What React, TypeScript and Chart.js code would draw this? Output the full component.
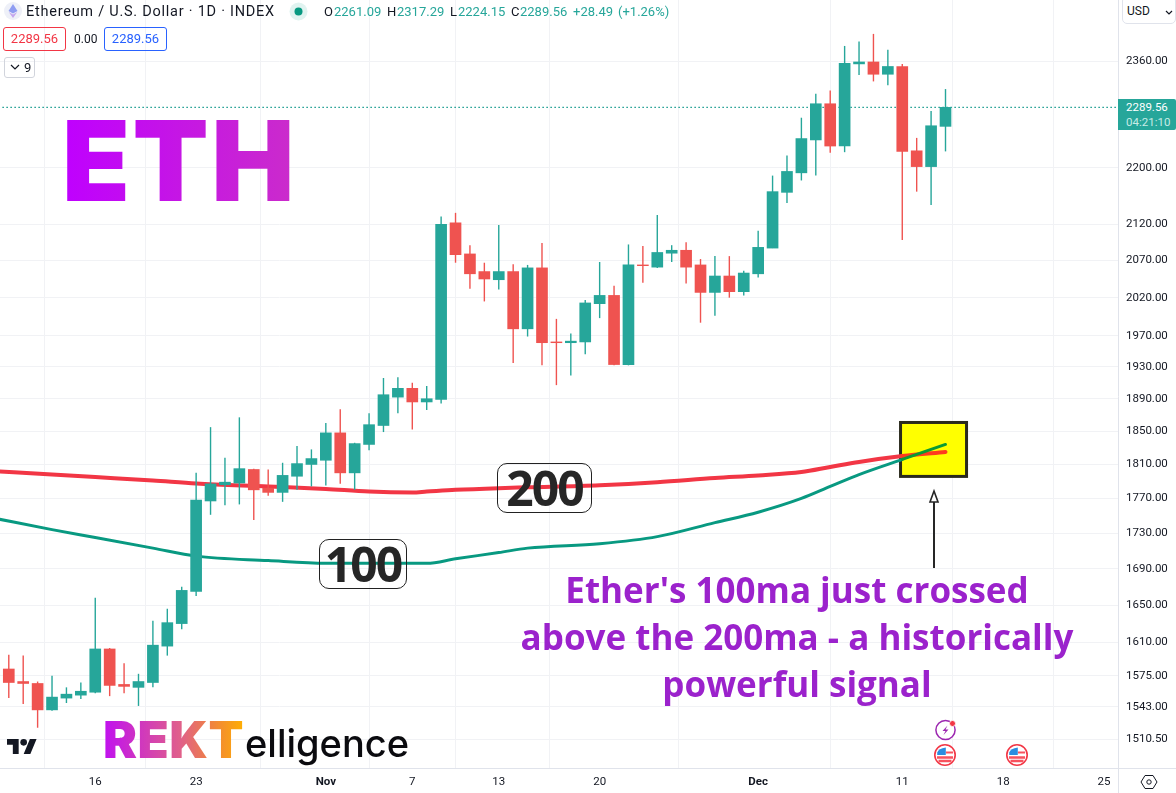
import React, { useEffect, useRef } from "react";
import { Chart, registerables } from "chart.js";

Chart.register(...registerables);

// one candle per day, first candle is Oct 10
const opens = [1582, 1569, 1567, 1540, 1552, 1555, 1558, 1603, 1566, 1563, 1568, 1606, 1630, 1665, 1767, 1786, 1788, 1804, 1782, 1777, 1796, 1810, 1815, 1848, 1800, 1834, 1857, 1892, 1903, 1886, 1889, 2122, 2079, 2055, 2044, 2055, 1979, 2060, 1962, 1961, 1962, 2012, 2023, 1933, 2064, 2061, 2080, 2084, 2064, 2027, 2049, 2028, 2052, 2087, 2165, 2193, 2241, 2295, 2232, 2356, 2359, 2340, 2352, 2225, 2202, 2261.09];
const highs = [1597, 1596, 1569, 1575, 1563, 1568, 1658, 1604, 1588, 1577, 1633, 1646, 1670, 1800, 1855, 1818, 1867, 1805, 1804, 1812, 1832, 1828, 1860, 1877, 1836, 1872, 1916, 1917, 1910, 1906, 2131, 2136, 2091, 2067, 2119, 2065, 2064, 2094, 1992, 1973, 2017, 2068, 2036, 2092, 2090, 2133, 2091, 2095, 2072, 2076, 2076, 2056, 2111, 2189, 2218, 2274, 2310, 2315, 2384, 2391, 2403, 2378, 2356, 2244, 2284, 2317.29];
const lows = [1552, 1546, 1522, 1539, 1547, 1551, 1557, 1554, 1557, 1544, 1563, 1596, 1624, 1660, 1751, 1762, 1763, 1745, 1773, 1766, 1780, 1784, 1785, 1787, 1780, 1827, 1849, 1872, 1852, 1876, 1884, 2067, 2032, 2015, 2031, 1935, 1969, 1932, 1907, 1919, 1946, 1993, 1932, 1932, 2040, 2060, 2068, 2039, 1987, 1996, 2020, 2023, 2047, 2087, 2150, 2182, 2189, 2222, 2223, 2339, 2329, 2323, 2098, 2166, 2147, 2224.15];
const closes = [1568, 1567, 1540, 1553, 1556, 1559, 1603, 1565, 1564, 1569, 1607, 1631, 1666, 1768, 1787, 1789, 1805, 1780, 1777, 1797, 1811, 1817, 1848, 1800, 1835, 1858, 1895, 1903, 1886, 1890, 2120, 2078, 2052, 2045, 2055, 1979, 2060, 1961, 1961, 1963, 2013, 2023, 1933, 2064, 2063, 2081, 2084, 2061, 2027, 2049, 2028, 2053, 2088, 2166, 2195, 2243, 2295, 2232, 2357, 2359, 2340, 2352, 2224, 2202, 2262, 2289.56];

const maDays = [-1, 3, 6, 10, 13, 18, 22, 25, 28, 29, 31, 34, 36, 41, 45, 49, 52, 55, 57, 59, 62, 65];
const ma200 = [1802, 1798, 1795, 1791, 1787.5, 1784, 1781, 1778, 1777, 1778, 1780, 1782, 1783, 1785.5, 1789, 1794, 1797, 1801, 1807, 1813, 1820, 1825];
const ma100 = [1747, 1734, 1725, 1713, 1704, 1699, 1696, 1696, 1696, 1696, 1701, 1708, 1713, 1718, 1726, 1742, 1754, 1770, 1784, 1798, 1816, 1834];

const lastPrice = 2289.56;
const priceTicks = [2360, 2200, 2120, 2070, 2020, 1970, 1930, 1890, 1850, 1810, 1770, 1730, 1690, 1650, 1610, 1575, 1543, 1510.5];
const dayTicks = [6, 13, 22, 28, 34, 41, 52, 62, 69, 76];
const dayLabels = ["16", "23", "Nov", "7", "13", "20", "Dec", "11", "18", "25"];

const boxDays = [61.88, 66.46];
const boxPrices = [1860.7, 1795.8];

const UP = "#26a69a";
const DOWN = "#ef5350";
const TEXT = "#131722";
const GRID = "#f1f2f5";
const AXIS = "#e0e3eb";
const FONT = "Roboto, sans-serif";

const days = opens.map((_, i) => i);
const candleColors = opens.map((o, i) => (closes[i] >= o ? UP : DOWN));

// yellow box sits under the lines, axis lines run into the corner
const extras = {
  id: "extras",
  beforeDatasetsDraw(chart: any) {
    const { ctx, scales } = chart;
    const x0 = scales.x.getPixelForValue(boxDays[0]);
    const x1 = scales.x.getPixelForValue(boxDays[1]);
    const y0 = scales.y.getPixelForValue(boxPrices[0]);
    const y1 = scales.y.getPixelForValue(boxPrices[1]);
    ctx.save();
    ctx.fillStyle = "#ffff00";
    ctx.strokeStyle = "#2a2a1c";
    ctx.lineWidth = 3;
    ctx.fillRect(x0, y0, x1 - x0, y1 - y0);
    ctx.strokeRect(x0, y0, x1 - x0, y1 - y0);
    ctx.restore();
  },
  afterDraw(chart: any) {
    const { ctx, chartArea, width, height } = chart;
    ctx.save();
    ctx.strokeStyle = AXIS;
    ctx.lineWidth = 1;
    ctx.beginPath();
    ctx.moveTo(0, chartArea.bottom + 0.5);
    ctx.lineTo(width, chartArea.bottom + 0.5);
    ctx.moveTo(chartArea.right + 0.5, 0);
    ctx.lineTo(chartArea.right + 0.5, height);
    ctx.stroke();
    ctx.restore();
  },
};

const Label: React.FC<{ x: number; y: number; color?: string; size?: number; spacing?: number; children: React.ReactNode }> = ({
  x,
  y,
  color = TEXT,
  size = 13,
  spacing = 0,
  children,
}) => (
  <div
    style={{
      position: "absolute",
      left: x,
      top: y,
      color,
      fontFamily: FONT,
      fontSize: size,
      letterSpacing: spacing,
      lineHeight: "16px",
      whiteSpace: "nowrap",
    }}
  >
    {children}
  </div>
);

const Badge: React.FC<{ x: number; y: number; w: number; text: string }> = ({ x, y, w, text }) => (
  <div
    style={{
      position: "absolute",
      left: x,
      top: y,
      width: w,
      height: 50,
      boxSizing: "border-box",
      border: "1.3px solid #222",
      borderRadius: 10,
      textAlign: "center",
      fontFamily: "'Open Sans', sans-serif",
      fontWeight: 700,
      fontSize: 48,
      lineHeight: "47px",
      letterSpacing: -2,
      color: "#262626",
    }}
  >
    {text}
  </div>
);

const FlagIcon: React.FC<{ cx: number; cy: number }> = ({ cx, cy }) => (
  <svg style={{ position: "absolute", left: cx - 12, top: cy - 12 }} width={24} height={24} viewBox="0 0 24 24">
    <circle cx="12" cy="12" r="10.2" fill="#fff" stroke="#f23645" strokeWidth="1.6" />
    <path d="M4 14.5h16M5.5 18h13" stroke="#f7525f" strokeWidth="2.4" />
    <path d="M13 9.5h7" stroke="#f7525f" strokeWidth="2" />
    <path d="M4.2 12V9.5Q5.5 5.5 12.8 4.4V12z" fill="#2a8de0" />
  </svg>
);

export default function App() {
  const canvasRef = useRef<HTMLCanvasElement>(null);

  useEffect(() => {
    if (!canvasRef.current) return;
    const chart = new Chart(canvasRef.current, {
      type: "bar",
      data: {
        datasets: [
          {
            type: "bar",
            order: 1,
            data: days.map((d) => ({ x: d, y: [opens[d], closes[d]] })),
            backgroundColor: candleColors,
            barThickness: 11,
            grouped: false,
          },
          {
            type: "bar",
            order: 2,
            data: days.map((d) => ({ x: d, y: [lows[d], highs[d]] })),
            backgroundColor: candleColors,
            barThickness: 1.4,
            grouped: false,
            inflateAmount: 0,
          },
          {
            type: "line",
            order: 3,
            data: maDays.map((d, i) => ({ x: d, y: ma100[i] })),
            borderColor: "#089981",
            borderWidth: 3,
            pointRadius: 0,
            cubicInterpolationMode: "monotone",
            borderCapStyle: "round",
            segment: { borderColor: (c: any) => (c.p0.parsed.x >= 62 ? "#0a9a35" : undefined) },
          },
          {
            type: "line",
            order: 4,
            data: maDays.map((d, i) => ({ x: d, y: ma200[i] })),
            borderColor: "#f23645",
            borderWidth: 4,
            pointRadius: 0,
            cubicInterpolationMode: "monotone",
            borderCapStyle: "round",
            segment: { borderColor: (c: any) => (c.p0.parsed.x >= 62 ? "#ff3b1f" : undefined) },
          },
          {
            type: "line",
            order: 5,
            data: [
              { x: -1, y: lastPrice },
              { x: 78, y: lastPrice },
            ],
            borderColor: "#159a8d",
            borderWidth: 1.4,
            borderDash: [1.5, 2.5],
            pointRadius: 0,
          },
        ] as any,
      },
      options: {
        responsive: false,
        animation: false,
        devicePixelRatio: 1,
        layout: { padding: 0 },
        plugins: { legend: { display: false }, tooltip: { enabled: false } },
        scales: {
          x: {
            type: "linear",
            bounds: "data",
            offset: false,
            min: -0.61,
            max: 76.97,
            afterFit: (s: any) => {
              s.height = 25;
              s.paddingLeft = 0;
              s.paddingRight = 0;
            },
            afterBuildTicks: (s: any) => {
              s.ticks = dayTicks.map((value) => ({ value }));
            },
            grid: { color: GRID, drawTicks: false, tickLength: 0 },
            border: { display: false },
            ticks: {
              autoSkip: false,
              maxRotation: 0,
              padding: 7,
              color: TEXT,
              font: (c: any) => {
                const label = dayLabels[dayTicks.indexOf(c.tick?.value)];
                return { family: FONT, size: 11.5, weight: label === "Nov" || label === "Dec" ? 700 : 400 };
              },
              callback: (v: any) => dayLabels[dayTicks.indexOf(v)],
            },
          },
          y: {
            type: "logarithmic",
            bounds: "data",
            position: "right",
            min: 1482.2,
            max: 2457.2,
            afterFit: (s: any) => {
              s.width = 58;
              s.paddingTop = 0;
              s.paddingBottom = 0;
            },
            afterBuildTicks: (s: any) => {
              s.ticks = priceTicks.map((value) => ({ value }));
            },
            grid: { color: GRID, drawTicks: false, tickLength: 0 },
            border: { display: false },
            ticks: {
              autoSkip: false,
              padding: 8,
              color: TEXT,
              font: { family: FONT, size: 11.5 },
              callback: (v: any) => Number(v).toFixed(2),
            },
          },
        },
      },
      plugins: [extras],
    } as any);

    return () => {
      chart.destroy();
    };
  }, []);

  return (
    <div style={{ position: "fixed", left: 0, top: 0, width: 1176, height: 793, background: "#fff", overflow: "hidden" }}>
      <canvas ref={canvasRef} width={1176} height={793} style={{ position: "absolute", left: 0, top: 0 }} />

      {/* legend row */}
      <svg style={{ position: "absolute", left: 4, top: 2 }} width={18} height={18} viewBox="0 0 18 18">
        <circle cx="9" cy="9" r="9" fill="#eef0f8" />
        <path d="M9 2 L13.5 9 L9 11.6 L4.5 9z" fill="#8f9df2" />
        <path d="M9 12.6 L13.3 10 L9 16 L4.7 10z" fill="#c4a6ee" />
      </svg>
      <Label x={26} y={4} size={14.5} spacing={0.75}>Ethereum / U.S. Dollar · 1D · INDEX</Label>
      <svg style={{ position: "absolute", left: 289, top: 2 }} width={19} height={19} viewBox="0 0 19 19">
        <circle cx="9.5" cy="9.5" r="9" fill="#e0f3f0" />
        <circle cx="9.5" cy="9.5" r="4" fill="#089981" />
      </svg>
      <Label x={324} y={4}>O</Label>
      <Label x={334} y={4} color={UP}>2261.09</Label>
      <Label x={387} y={4}>H</Label>
      <Label x={397} y={4} color={UP}>2317.29</Label>
      <Label x={450} y={4}>L</Label>
      <Label x={458} y={4} color={UP}>2224.15</Label>
      <Label x={511} y={4}>C</Label>
      <Label x={520} y={4} color={UP}>2289.56</Label>
      <Label x={573} y={4} color={UP}>+28.49</Label>
      <Label x={618} y={4} color={UP}>(+1.26%)</Label>

      {/* bid / ask row */}
      <div style={{ position: "absolute", left: 3, top: 27, width: 63, height: 24, boxSizing: "border-box", border: "1px solid #f23645", borderRadius: 3, color: "#f23645", fontFamily: FONT, fontSize: 13, lineHeight: "22px", textAlign: "center" }}>2289.56</div>
      <Label x={74} y={31} size={12}>0.00</Label>
      <div style={{ position: "absolute", left: 104, top: 27, width: 63, height: 24, boxSizing: "border-box", border: "1px solid #2962ff", borderRadius: 3, color: "#2962ff", fontFamily: FONT, fontSize: 13, lineHeight: "22px", textAlign: "center" }}>2289.56</div>
      <div style={{ position: "absolute", left: 4, top: 57, width: 31, height: 21, boxSizing: "border-box", border: "1px solid #d1d4dc", borderRadius: 3, color: TEXT, fontFamily: FONT, fontSize: 13, lineHeight: "19px", paddingLeft: 19 }}>9</div>
      <svg style={{ position: "absolute", left: 10, top: 64 }} width={10} height={7} viewBox="0 0 10 7">
        <path d="M1 1l4 4 4-4" fill="none" stroke={TEXT} strokeWidth="1.2" />
      </svg>

      {/* currency button and price tag on the axis */}
      <div style={{ position: "absolute", left: 1122, top: -4, width: 54, height: 28, boxSizing: "border-box", border: "1px solid #e0e3eb", borderRadius: 5, background: "#fff", color: TEXT, fontFamily: FONT, fontSize: 12, lineHeight: "28px", paddingLeft: 4 }}>USD</div>
      <svg style={{ position: "absolute", left: 1165, top: 10 }} width={8} height={6} viewBox="0 0 8 6">
        <path d="M1 1l3 3 3-3" fill="none" stroke={TEXT} strokeWidth="1.2" />
      </svg>
      <div style={{ position: "absolute", left: 1118, top: 99, width: 58, height: 31, background: UP, borderRadius: "0 2px 2px 0", fontFamily: FONT, fontSize: 11.5, lineHeight: "15px", paddingTop: 1, paddingLeft: 8, boxSizing: "border-box", color: "#fff" }}>
        <div>2289.56</div>
        <div style={{ color: "#c8ebe6" }}>04:21:10</div>
      </div>
      <svg style={{ position: "absolute", left: 1140, top: 773 }} width={18} height={18} viewBox="0 0 18 18">
        <path d="M5 2.5h8L17 9l-4 6.5H5L1 9z" fill="none" stroke={TEXT} strokeWidth="1" />
        <circle cx="9" cy="9" r="2.2" fill="none" stroke={TEXT} strokeWidth="1" />
      </svg>

      {/* big title */}
      <div style={{ position: "absolute", left: 62, top: 94, fontFamily: "Inter, sans-serif", fontWeight: 900, fontSize: 111, lineHeight: "134px", letterSpacing: 2.5, background: "linear-gradient(90deg, #bf00ff, #cb2cca)", WebkitBackgroundClip: "text", backgroundClip: "text", color: "transparent" }}>ETH</div>

      <Badge x={497} y={463} w={95} text="200" />
      <Badge x={319} y={539} w={88} text="100" />

      {/* arrow up to the crossing */}
      <svg style={{ position: "absolute", left: 925, top: 488 }} width={18} height={82} viewBox="0 0 18 82">
        <path d="M9 14V80" stroke="#262626" strokeWidth="2" />
        <path d="M9 3L13 14H5z" fill="#fff" stroke="#262626" strokeWidth="1.6" />
      </svg>

      <div style={{ position: "absolute", left: 497, top: 566, width: 600, textAlign: "center", fontFamily: "'Open Sans', sans-serif", fontWeight: 700, fontSize: 35, lineHeight: "47px", color: "#9b22cc" }}>
        Ether's 100ma just crossed
        <br />
        above the 200ma - a historically
        <br />
        powerful signal
      </div>

      {/* tradingview mark */}
      <svg style={{ position: "absolute", left: 7, top: 739 }} width={30} height={15} viewBox="0 4 36 18">
        <path d="M14 22H7V11H0V4h14v18zM28 22h-8l7.5-18h8L28 22z" fill={TEXT} />
        <circle cx="20" cy="8" r="4" fill={TEXT} />
      </svg>

      {/* watermark */}
      <div style={{ position: "absolute", left: 103, top: 709, fontFamily: "Inter, sans-serif", fontWeight: 900, fontSize: 51, lineHeight: "62px", letterSpacing: 0.5, whiteSpace: "nowrap", background: "linear-gradient(90deg, #c010f0, #e0608a 55%, #f0843c 78%, #ffb000)", WebkitBackgroundClip: "text", backgroundClip: "text", color: "transparent" }}>REKT</div>
      <div style={{ position: "absolute", left: 245, top: 720, fontFamily: "Inter, sans-serif", fontWeight: 500, fontSize: 38, lineHeight: "46px", color: "#0b0b0f", whiteSpace: "nowrap" }}>elligence</div>

      {/* event markers */}
      <svg style={{ position: "absolute", left: 933, top: 718 }} width={26} height={24} viewBox="0 0 26 24">
        <circle cx="12.5" cy="12" r="9.6" fill="#fff" stroke="#9c27b0" strokeWidth="1.5" />
        <path d="M14.5 7.5L9.5 13h3l-2 4 5-5.5h-3z" fill="#9c27b0" />
        <circle cx="19.5" cy="5.5" r="3" fill="#f23645" stroke="#fff" strokeWidth="0.8" />
      </svg>
      <FlagIcon cx={945} cy={755} />
      <FlagIcon cx={1017} cy={755} />
    </div>
  );
}
